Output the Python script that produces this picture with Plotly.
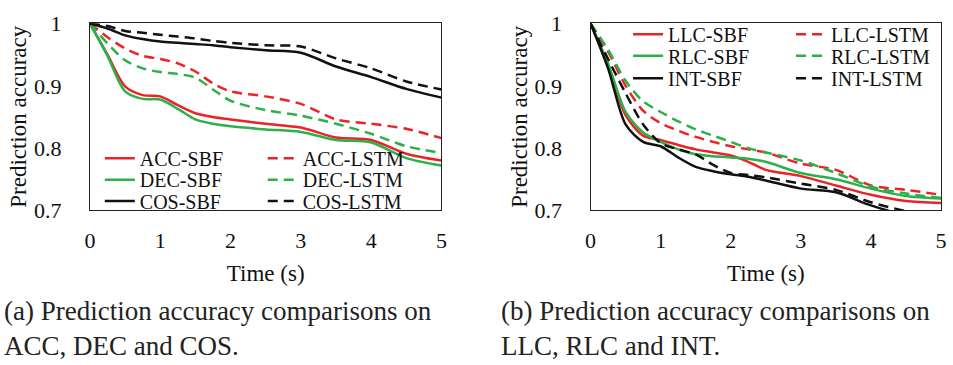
import plotly.graph_objects as go

# ---------------- data ----------------
t_left = [0, 0.25, 0.5, 0.75, 1, 1.25, 1.5, 1.75, 2, 2.5, 3, 3.5, 4, 4.5, 5]
acc_sbf = [1.0, 0.950, 0.899, 0.885, 0.883, 0.869, 0.856, 0.850, 0.846, 0.839, 0.833, 0.817, 0.813, 0.791, 0.780]
dec_sbf = [1.0, 0.948, 0.891, 0.879, 0.878, 0.863, 0.846, 0.839, 0.835, 0.830, 0.826, 0.813, 0.809, 0.784, 0.772]
cos_sbf = [1.0, 0.992, 0.981, 0.975, 0.971, 0.969, 0.967, 0.965, 0.962, 0.957, 0.953, 0.931, 0.914, 0.895, 0.881]
acc_lstm = [1.0, 0.978, 0.960, 0.948, 0.943, 0.936, 0.923, 0.904, 0.891, 0.883, 0.871, 0.846, 0.839, 0.831, 0.816]
dec_lstm = [1.0, 0.968, 0.941, 0.928, 0.922, 0.919, 0.913, 0.894, 0.876, 0.861, 0.852, 0.839, 0.823, 0.803, 0.792]
cos_lstm = [1.0, 0.996, 0.988, 0.985, 0.982, 0.979, 0.976, 0.972, 0.969, 0.965, 0.963, 0.944, 0.928, 0.907, 0.894]

t_right = [0, 0.25, 0.5, 0.75, 1, 1.25, 1.5, 1.75, 2, 2.25, 2.5, 3, 3.5, 4, 4.5, 5]
llc_sbf = [1.0, 0.933, 0.853, 0.820, 0.813, 0.805, 0.798, 0.793, 0.788, 0.778, 0.765, 0.755, 0.740, 0.725, 0.715, 0.712]
rlc_sbf = [1.0, 0.936, 0.858, 0.825, 0.810, 0.798, 0.790, 0.787, 0.785, 0.783, 0.778, 0.760, 0.750, 0.735, 0.723, 0.719]
int_sbf = [1.0, 0.928, 0.838, 0.810, 0.803, 0.785, 0.770, 0.763, 0.758, 0.754, 0.748, 0.735, 0.729, 0.708, 0.692, 0.685]
llc_lstm = [1.0, 0.955, 0.900, 0.860, 0.840, 0.828, 0.818, 0.810, 0.803, 0.798, 0.793, 0.775, 0.765, 0.740, 0.733, 0.725]
rlc_lstm = [1.0, 0.958, 0.908, 0.875, 0.858, 0.843, 0.830, 0.820, 0.810, 0.800, 0.793, 0.780, 0.760, 0.738, 0.727, 0.720]
int_lstm = [1.0, 0.943, 0.888, 0.838, 0.808, 0.798, 0.790, 0.773, 0.760, 0.757, 0.753, 0.743, 0.733, 0.713, 0.699, 0.690]

x_ticks = [0, 1, 2, 3, 4, 5]
y_ticks = [0.7, 0.8, 0.9, 1.0]
y_tick_text = ["0.7", "0.8", "0.9", "1"]

captions = [
    ("(a) Prediction accuracy comparisons on", "ACC, DEC and COS."),
    ("(b) Prediction accuracy comparisons on", "LLC, RLC and INT."),
]

RED = "#EC2227"
GREEN = "#2BB04A"
BLACK = "#111111"
FONT = "Liberation Serif"
W, H = 953, 365

fig = go.Figure()

left_series = [
    ("ACC-SBF", acc_sbf, RED, "solid"),
    ("ACC-LSTM", acc_lstm, RED, "10px,6px"),
    ("DEC-SBF", dec_sbf, GREEN, "solid"),
    ("DEC-LSTM", dec_lstm, GREEN, "10px,6px"),
    ("COS-SBF", cos_sbf, BLACK, "solid"),
    ("COS-LSTM", cos_lstm, BLACK, "10px,6px"),
]
right_series = [
    ("LLC-SBF", llc_sbf, RED, "solid"),
    ("LLC-LSTM", llc_lstm, RED, "10px,6px"),
    ("RLC-SBF", rlc_sbf, GREEN, "solid"),
    ("RLC-LSTM", rlc_lstm, GREEN, "10px,6px"),
    ("INT-SBF", int_sbf, BLACK, "solid"),
    ("INT-LSTM", int_lstm, BLACK, "10px,6px"),
]

left_leg_pos = [(95, 157), (260, 157), (95, 180), (260, 180), (95, 203), (260, 203)]
right_leg_pos = [(630, 24), (795, 24), (630, 47), (795, 47), (630, 71), (795, 71)]

legend_layouts = {}
idx = 1
for series, t, xa, ya, positions in [
    (left_series, t_left, "x", "y", left_leg_pos),
    (right_series, t_right, "x2", "y2", right_leg_pos),
]:
    for (name, vals, col, dash), (lx, ly) in zip(series, positions):
        lid = "legend" if idx == 1 else f"legend{idx}"
        fig.add_trace(go.Scatter(
            x=t, y=vals, name=name, mode="lines",
            line=dict(color=col, width=2.5, dash=dash, shape="spline", smoothing=0.8),
            xaxis=xa, yaxis=ya, legend=lid, showlegend=True,
        ))
        legend_layouts[lid] = dict(
            x=lx / W, y=1 - ly / H, xanchor="left", yanchor="middle",
            bgcolor="rgba(0,0,0,0)", borderwidth=0,
            font=dict(family=FONT, size=20, color="#111"),
            itemwidth=30,
        )
        idx += 1

axis_common = dict(
    range=[0, 5], tickvals=x_ticks, showgrid=False, zeroline=False,
    showline=True, linecolor="#222", linewidth=1.2, mirror=True,
    ticks="", tickfont=dict(family=FONT, size=22, color="#111"),
    ticklabelstandoff=10,
    title=dict(text="Time (s)", font=dict(family=FONT, size=23, color="#111"), standoff=12),
)
yaxis_common = dict(
    range=[0.7, 1.0005], tickvals=y_ticks, ticktext=y_tick_text, showgrid=False, zeroline=False,
    showline=True, linecolor="#222", linewidth=1.2, mirror=True,
    ticks="", tickfont=dict(family=FONT, size=22, color="#111"),
    ticklabelstandoff=23,
    title=dict(text="Prediction accuracy", font=dict(family=FONT, size=23, color="#111"), standoff=0),
)

y_dom = [1 - 213 / H, 1 - 12 / H]
fig.update_layout(
    width=W, height=H,
    margin=dict(l=0, r=0, t=0, b=0),
    paper_bgcolor="white", plot_bgcolor="white",
    font=dict(family=FONT, color="#111"),
    xaxis=dict(domain=[85 / W, 441 / W], anchor="y", **axis_common),
    yaxis=dict(domain=y_dom, anchor="x", **yaxis_common),
    xaxis2=dict(domain=[592 / W, 947 / W], anchor="y2", **axis_common),
    yaxis2=dict(domain=y_dom, anchor="x2", **yaxis_common),
    **legend_layouts,
)

cap_x = [-4, 499]
for (l1, l2), cx in zip(captions, cap_x):
    fig.add_annotation(
        text=f"{l1}<br>{l2}", x=cx / W, y=1 - 340 / H, xref="paper", yref="paper",
        xanchor="left", yanchor="middle", align="left", showarrow=False,
        font=dict(family=FONT, size=27, color="#222"),
    )

fig.write_html("out.html")
